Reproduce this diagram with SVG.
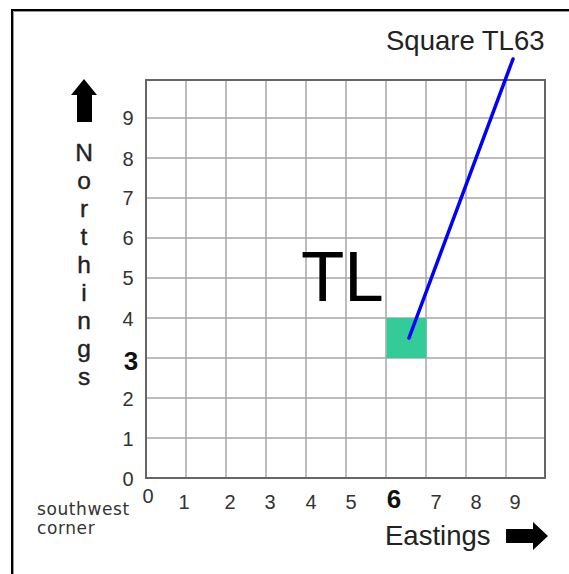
<svg xmlns="http://www.w3.org/2000/svg" width="569" height="574" viewBox="0 0 569 574">
<style>
.grid{stroke:#a6a6a6;stroke-width:1.5;fill:none}
.gridb{stroke:#666;stroke-width:2;fill:none}
.num{font-family:"Liberation Sans",Arial,sans-serif;font-size:20px;fill:#333;text-anchor:middle}
.bold{font-family:"Liberation Sans",Arial,sans-serif;font-size:26px;font-weight:bold;fill:#111;text-anchor:middle}
.lbl{font-family:"Liberation Sans",Arial,sans-serif;fill:#222}
.north{font-family:"Liberation Sans",Arial,sans-serif;font-size:24.5px;fill:#222;text-anchor:middle;stroke:#222;stroke-width:0.4}
.small{font-family:"DejaVu Sans",Verdana,sans-serif;font-size:17px;letter-spacing:0.6px;fill:#333}
</style>
<rect x="0" y="0" width="569" height="574" fill="#fff"/>
<g id="frame">
<path d="M12 574 V10 H569" fill="none" stroke="#000" stroke-width="2"/>
<path d="M13.5 574 V11.5 H569" fill="none" stroke="#999" stroke-width="1"/>
</g>
<g id="grid">
<path class="grid" d="M186 80V478M226 80V478M266 80V478M306 80V478M346 80V478M386 80V478M426 80V478M466 80V478M506 80V478M146 118H545M146 158H545M146 198H545M146 238H545M146 278H545M146 318H545M146 358H545M146 398H545M146 438H545"/>
<rect class="gridb" x="146" y="80" width="399" height="398"/>
</g>
<g id="square-tl63">
<rect x="386.5" y="318" width="40" height="40" fill="#33cc99"/>
</g>
<g id="tl-label">
<text x="301" y="301" class="lbl" font-size="71" style="fill:#000">TL</text>
</g>
<g id="square-label">
<text x="386" y="50" class="lbl" font-size="27.5">Square TL63</text>
</g>
<g id="connectors">
<line x1="409" y1="338" x2="513" y2="59" stroke="#0000ff" stroke-width="3.5" stroke-linecap="round"/>
</g>
<g id="y-axis">
<text class="num" x="128" y="125">9</text>
<text class="num" x="128" y="166">8</text>
<text class="num" x="128" y="205">7</text>
<text class="num" x="128" y="245">6</text>
<text class="num" x="128" y="285">5</text>
<text class="num" x="128" y="326">4</text>
<text class="bold" x="131" y="370">3</text>
<text class="num" x="128" y="406">2</text>
<text class="num" x="128" y="446">1</text>
<text class="num" x="128" y="486">0</text>
</g>
<g id="x-axis">
<text class="num" x="148" y="503">0</text>
<text class="num" x="184" y="509">1</text>
<text class="num" x="230" y="509">2</text>
<text class="num" x="270" y="509">3</text>
<text class="num" x="311" y="509">4</text>
<text class="num" x="351" y="509">5</text>
<text class="bold" x="394" y="508">6</text>
<text class="num" x="436" y="509">7</text>
<text class="num" x="476" y="509">8</text>
<text class="num" x="515" y="509">9</text>
</g>
<g id="northings">
<polygon points="84,79 97,95 92,95 92,122 77,122 77,95 71,95" fill="#000"/>
<text class="north"><tspan x="84" y="161">N</tspan><tspan x="84" y="189">o</tspan><tspan x="84" y="217">r</tspan><tspan x="84" y="245">t</tspan><tspan x="84" y="273">h</tspan><tspan x="84" y="301">i</tspan><tspan x="84" y="329">n</tspan><tspan x="84" y="357">g</tspan><tspan x="84" y="385">s</tspan></text>
</g>
<g id="eastings">
<text x="385" y="545" class="lbl" font-size="27.5">Eastings</text>
<polygon points="506,529 533,529 533,522 548,536 533,550 533,543 506,543" fill="#000"/>
</g>
<g id="southwest-corner">
<text class="small" x="37" y="515">southwest</text>
<text class="small" x="37" y="534">corner</text>
</g>
</svg>
